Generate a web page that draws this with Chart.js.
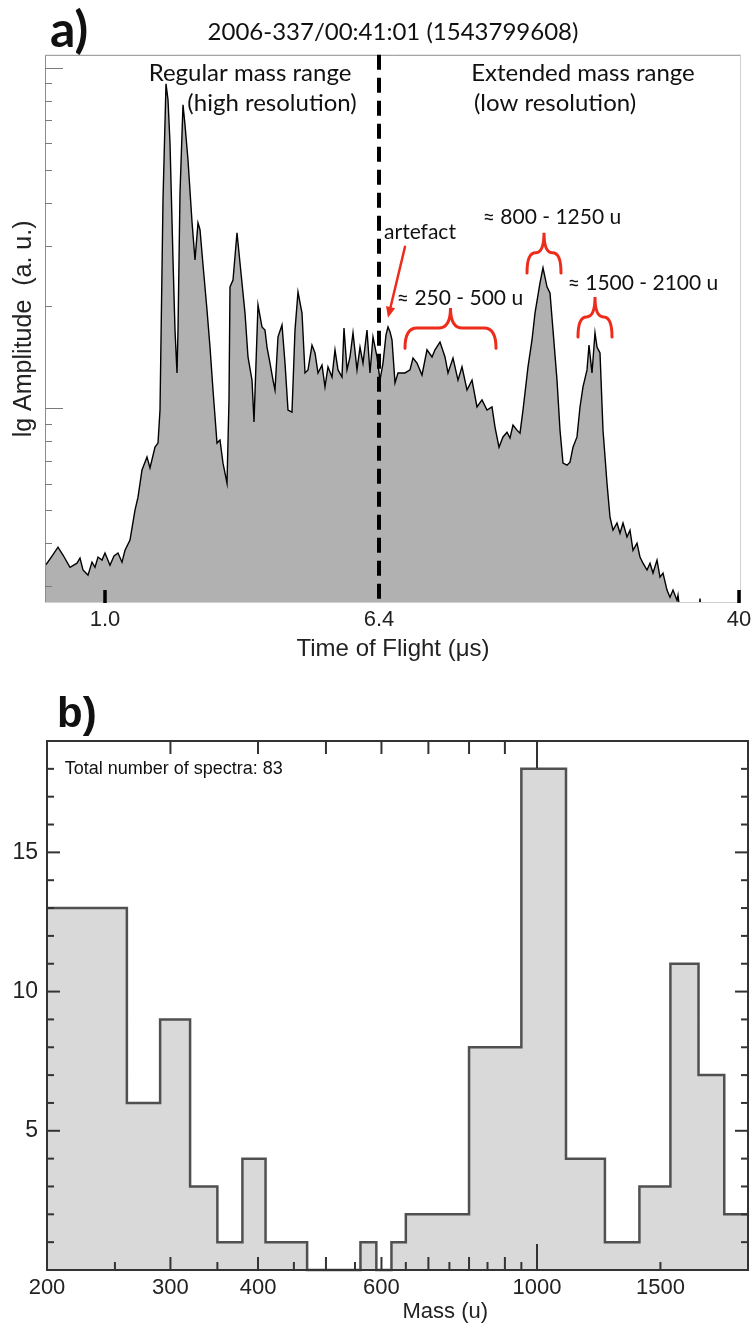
<!DOCTYPE html>
<html>
<head>
<meta charset="utf-8">
<script src="https://cdn.jsdelivr.net/npm/chart.js@4.4.1/dist/chart.umd.min.js"></script>
<style>
  html, body { margin: 0; padding: 0; background: #fff; }
  #wrap-a { position: absolute; left: 0; top: 0; width: 756px; height: 680px; }
  #wrap-b { position: absolute; left: 0; top: 680px; width: 756px; height: 645px; }
</style>
</head>
<body>
<div id="wrap-a"><canvas id="spectrum-chart"></canvas></div>
<div id="wrap-b"><canvas id="mass-chart"></canvas></div>
<script>
// ---- panel a: TOF spectrum (channel along the axis, lg amplitude) ----
var spectrumTitle = '2006-337/00:41:01 (1543799608)';
var tofTickChannels = [60, 334, 694];
var tofTickLabels = ['1.0', '6.4', '40'];
var tofBoundary = 334;   // 6.4 us, end of regular mass range

var tofChannel = [
  0, 2, 7, 13, 18, 25, 32, 35, 38, 43,
  47, 50, 53, 57, 60, 65, 69, 73, 77, 80,
  85, 90, 93, 97, 102, 105, 110, 113, 115, 116,
  118, 121, 123, 125, 128, 130, 132, 133, 135, 138,
  140, 143, 147, 150, 153, 155, 158, 162, 165, 168,
  172, 175, 178, 182, 184, 185, 188, 192, 195, 200,
  203, 207, 209, 213, 217, 220, 222, 225, 228, 230,
  233, 237, 240, 243, 247, 250, 253, 257, 260, 263,
  267, 270, 273, 277, 280, 283, 287, 290, 293, 297,
  299, 302, 305, 308, 312, 315, 318, 322, 325, 328,
  332, 335, 338, 341, 343, 345, 347, 350, 353, 360,
  365, 368, 372, 377, 382, 387, 390, 395, 400, 403,
  408, 413, 417, 422, 427, 432, 437, 442, 447, 450,
  454, 458, 462, 465, 468, 472, 475, 478, 483, 487,
  490, 495, 498, 502, 505, 508, 512, 515, 518, 522,
  525, 528, 532, 535, 538, 542, 544, 547, 550, 552,
  555, 558, 562, 565, 568, 572, 575, 578, 582, 585,
  588, 592, 595, 598, 602, 605, 608, 612, 615, 618,
  622, 625, 628, 632, 633, 635, 654, 655, 656, 696
];
var lgAmp = [
  0.538, 0.544, 0.565, 0.591, 0.568, 0.532, 0.544, 0.559, 0.524, 0.509,
  0.547, 0.532, 0.562, 0.553, 0.574, 0.538, 0.565, 0.574, 0.547, 0.582,
  0.612, 0.700, 0.738, 0.818, 0.856, 0.824, 0.885, 0.897, 0.994, 1.200,
  1.612, 1.953, 1.906, 1.779, 1.435, 1.229, 1.103, 1.229, 1.632, 1.891,
  1.832, 1.729, 1.547, 1.435, 1.544, 1.524, 1.421, 1.288, 1.179, 1.053,
  0.897, 0.906, 0.838, 0.779, 1.024, 1.356, 1.376, 1.515, 1.426, 1.279,
  1.150, 1.082, 0.959, 1.303, 1.238, 1.229, 1.179, 1.132, 1.082, 1.053,
  1.209, 1.244, 1.132, 0.994, 0.988, 1.229, 1.341, 1.279, 1.103, 1.112,
  1.185, 1.162, 1.103, 1.126, 1.062, 1.121, 1.091, 1.171, 1.112, 1.091,
  1.235, 1.112, 1.150, 1.221, 1.112, 1.179, 1.132, 1.229, 1.103, 1.209,
  1.150, 1.082, 1.132, 1.215, 1.238, 1.224, 1.200, 1.074, 1.103, 1.103,
  1.112, 1.147, 1.132, 1.097, 1.171, 1.150, 1.171, 1.194, 1.150, 1.103,
  1.147, 1.082, 1.121, 1.053, 1.082, 1.003, 1.024, 0.994, 1.003, 0.944,
  0.885, 0.915, 0.929, 0.912, 0.950, 0.935, 0.926, 0.994, 1.121, 1.200,
  1.279, 1.368, 1.412, 1.356, 1.338, 1.229, 1.082, 0.935, 0.838, 0.832,
  0.841, 0.885, 0.915, 1.003, 1.062, 1.112, 1.185, 1.103, 1.221, 1.179,
  1.162, 0.935, 0.779, 0.679, 0.641, 0.662, 0.632, 0.662, 0.621, 0.641,
  0.582, 0.603, 0.562, 0.544, 0.524, 0.544, 0.515, 0.553, 0.503, 0.515,
  0.465, 0.444, 0.465, 0.435, 0.450, 0.400, 0.400, 0.440, 0.400, 0.400
];
var lgMin = 0.427, lgMax = 2.038;
var ampMinorTicks = [3, 4, 5, 6, 7, 8, 9, 20, 30, 40, 50, 60, 70, 80, 90];
var ampDecadeTicks = [10, 100];

// text notes, placed in data units (channel, lg amplitude)
var spectrumNotes = [
  {text: 'Regular mass range', x: 205, y: 1.985, size: 24},
  {text: '(high resolution)', x: 227, y: 1.897, size: 24},
  {text: 'Extended mass range', x: 538, y: 1.985, size: 24},
  {text: '(low resolution)', x: 510, y: 1.897, size: 24},
  {text: 'artefact', x: 375, y: 1.518, size: 21},
  {text: '\u2248 250 - 500 u', x: 415, y: 1.324, size: 21},
  {text: '\u2248 800 - 1250 u', x: 507, y: 1.562, size: 21},
  {text: '\u2248 1500 - 2100 u', x: 598, y: 1.368, size: 21}
];
// braces: [from channel, to channel, lg of tip, lg of ends]
var spectrumBraces = [
  [360, 451, 1.294, 1.176],
  [482, 516, 1.515, 1.397],
  [533, 567, 1.326, 1.209]
];
var artefactArrow = [360, 1.474, 343, 1.265];

// ---- panel b: mass histogram ----
var massEdges = [200, 260, 290, 320, 350, 380, 410, 470, 560, 590, 620, 650, 800, 950, 1100, 1250, 1400, 1550, 1700, 1850, 2000];
var binCounts = [13, 6, 9, 3, 1, 4, 1, 0, 1, 0, 1, 2, 8, 18, 4, 1, 3, 11, 7, 2];
var massTickValues = [200, 300, 400, 600, 1000, 1500];
var massMinorTicks = [250, 350, 450, 550, 650, 750, 850, 950, 1500];
var massMidTicks = [300, 400, 500, 600, 700, 800, 900];
var massTopTicks = [300, 400, 500, 600, 700, 800, 900];
var countTickLabels = [5, 10, 15];
var countTicks = [1, 2, 3, 4, 5, 6, 7, 8, 9, 10, 11, 12, 13, 14, 15, 16, 17, 18];
var totalNote = 'Total number of spectra: 83';
var massTitle = 'Mass (u)';

function seg(ctx, x1, y1, x2, y2) {
  ctx.beginPath(); ctx.moveTo(x1, y1); ctx.lineTo(x2, y2); ctx.stroke();
}

function drawBrace(ctx, x1, x2, yTip, yEnd) {
  var xc = (x1 + x2) / 2, ym = (yTip + yEnd) / 2;
  var r = Math.min((x2 - x1) / 4, 12);
  ctx.beginPath();
  ctx.moveTo(x1, yEnd);
  ctx.quadraticCurveTo(x1, ym, x1 + r, ym);
  ctx.lineTo(xc - r, ym);
  ctx.quadraticCurveTo(xc, ym, xc, yTip);
  ctx.quadraticCurveTo(xc, ym, xc + r, ym);
  ctx.lineTo(x2 - r, ym);
  ctx.quadraticCurveTo(x2, ym, x2, yEnd);
  ctx.stroke();
}

var spectrumDecor = {
  id: 'spectrumDecor',
  afterDatasetsDraw: function (chart) {
    var ctx = chart.ctx, a = chart.chartArea, x = chart.scales.x, y = chart.scales.y;
    ctx.save();
    ctx.lineWidth = 1;
    ctx.strokeStyle = '#8c8c8c';
    ctx.beginPath();
    ctx.moveTo(a.left + 0.5, a.bottom);
    ctx.lineTo(a.left + 0.5, a.top + 0.5);
    ctx.lineTo(a.right, a.top + 0.5);
    ctx.stroke();
    ctx.strokeStyle = '#d0d0d0';
    seg(ctx, a.right - 0.5, a.top, a.right - 0.5, a.bottom);
    seg(ctx, a.left, a.bottom - 0.5, a.right, a.bottom - 0.5);

    ctx.strokeStyle = '#7a7a7a';
    ampMinorTicks.forEach(function (v) {
      var py = Math.round(y.getPixelForValue(Math.log10(v))) + 0.5;
      seg(ctx, a.left, py, a.left + 7, py);
    });
    ampDecadeTicks.forEach(function (v) {
      var py = Math.round(y.getPixelForValue(Math.log10(v))) + 0.5;
      seg(ctx, a.left, py, a.left + 18, py);
    });

    ctx.strokeStyle = '#000';
    ctx.lineWidth = 3.5;
    tofTickChannels.forEach(function (v) {
      if (v === tofBoundary) return;
      var px = x.getPixelForValue(v);
      seg(ctx, px, a.bottom, px, a.bottom - 13);
    });

    ctx.lineWidth = 4;
    ctx.setLineDash([15, 8]);
    var bx = x.getPixelForValue(tofBoundary);
    seg(ctx, bx, a.top, bx, a.bottom);
    ctx.restore();
  },
  afterDraw: function (chart) {
    var ctx = chart.ctx, x = chart.scales.x, y = chart.scales.y;
    ctx.save();
    ctx.fillStyle = '#111';
    ctx.font = 'bold 50px Lato';
    ctx.textAlign = 'left';
    ctx.textBaseline = 'alphabetic';
    ctx.fillText('a)', 50, 47);

    ctx.textAlign = 'center';
    ctx.textBaseline = 'middle';
    spectrumNotes.forEach(function (n) {
      ctx.font = n.size + 'px Lato';
      ctx.fillText(n.text, x.getPixelForValue(n.x), y.getPixelForValue(n.y));
    });

    ctx.strokeStyle = '#ee2c1c';
    ctx.fillStyle = '#ee2c1c';
    ctx.lineWidth = 3;
    ctx.lineCap = 'round';
    spectrumBraces.forEach(function (b) {
      drawBrace(ctx, x.getPixelForValue(b[0]), x.getPixelForValue(b[1]),
        y.getPixelForValue(b[2]), y.getPixelForValue(b[3]));
    });

    var x1 = x.getPixelForValue(artefactArrow[0]), y1 = y.getPixelForValue(artefactArrow[1]);
    var x2 = x.getPixelForValue(artefactArrow[2]), y2 = y.getPixelForValue(artefactArrow[3]);
    var ang = Math.atan2(y2 - y1, x2 - x1);
    ctx.lineWidth = 2.5;
    seg(ctx, x1, y1, x2 - 8 * Math.cos(ang), y2 - 8 * Math.sin(ang));
    ctx.beginPath();
    ctx.moveTo(x2, y2);
    ctx.lineTo(x2 - 12 * Math.cos(ang - 0.4), y2 - 12 * Math.sin(ang - 0.4));
    ctx.lineTo(x2 - 12 * Math.cos(ang + 0.4), y2 - 12 * Math.sin(ang + 0.4));
    ctx.closePath();
    ctx.fill();
    ctx.restore();
  }
};

var spectrumChart = new Chart(document.getElementById('spectrum-chart').getContext('2d'), {
  type: 'line',
  data: {
    datasets: [{
      data: tofChannel.map(function (c, i) { return {x: c, y: lgAmp[i]}; }),
      borderColor: '#000',
      borderWidth: 1.4,
      backgroundColor: '#b1b1b1',
      fill: 'start',
      pointRadius: 0,
      tension: 0
    }]
  },
  options: {
    responsive: true,
    maintainAspectRatio: false,
    animation: false,
    layout: {padding: {top: 18, right: 15, left: 0, bottom: 0}},
    plugins: {
      legend: {display: false},
      tooltip: {enabled: false},
      title: {
        display: true, text: spectrumTitle, fullSize: false, color: '#111',
        font: {family: 'Lato', size: 24, weight: 'normal', lineHeight: 1.2},
        padding: {top: 0, bottom: 8}
      }
    },
    scales: {
      x: {
        type: 'linear', min: 0, max: 696,
        grid: {display: false, drawTicks: false},
        border: {display: false},
        afterBuildTicks: function (s) { s.ticks = tofTickChannels.map(function (v) { return {value: v}; }); },
        afterFit: function (s) { s.height = 77; },
        ticks: {
          autoSkip: false, maxRotation: 0, padding: 4, color: '#222',
          font: {family: 'Liberation Sans', size: 22},
          callback: function (v) { return tofTickLabels[tofTickChannels.indexOf(v)]; }
        },
        title: {
          display: true, text: 'Time of Flight (\u03bcs)', color: '#222',
          font: {family: 'Liberation Sans', size: 24},
          padding: {top: 0, bottom: 16}
        }
      },
      y: {
        type: 'linear', min: lgMin, max: lgMax,
        grid: {display: false, drawTicks: false},
        border: {display: false},
        ticks: {display: false},
        afterFit: function (s) { s.width = 45; },
        title: {
          display: true, text: 'lg Amplitude  (a. u.)', color: '#222',
          font: {family: 'Liberation Sans', size: 25},
          padding: {top: 9, bottom: 0}
        }
      }
    }
  },
  plugins: [spectrumDecor]
});

var massDecor = {
  id: 'massDecor',
  afterDatasetsDraw: function (chart) {
    var ctx = chart.ctx, a = chart.chartArea, x = chart.scales.x, y = chart.scales.y;
    ctx.save();
    ctx.strokeStyle = '#333';
    ctx.lineWidth = 2;
    ctx.strokeRect(a.left, a.top, a.right - a.left, a.bottom - a.top);
    countTicks.forEach(function (v) {
      var py = y.getPixelForValue(v);
      var len = countTickLabels.indexOf(v) >= 0 ? 13 : 7;
      seg(ctx, a.left, py, a.left + len, py);
      seg(ctx, a.right, py, a.right - len, py);
    });
    massMinorTicks.forEach(function (v) {
      var px = x.getPixelForValue(v);
      seg(ctx, px, a.bottom, px, a.bottom - 8);
    });
    massMidTicks.forEach(function (v) {
      var px = x.getPixelForValue(v);
      seg(ctx, px, a.bottom, px, a.bottom - 13);
    });
    massTopTicks.forEach(function (v) {
      var px = x.getPixelForValue(v);
      seg(ctx, px, a.top, px, a.top + 13);
    });
    var kx = x.getPixelForValue(1000);
    seg(ctx, kx, a.bottom, kx, a.bottom - 26);
    seg(ctx, kx, a.top, kx, a.top + 27);
    ctx.restore();
  },
  afterDraw: function (chart) {
    var ctx = chart.ctx, a = chart.chartArea, x = chart.scales.x, y = chart.scales.y;
    ctx.save();
    ctx.fillStyle = '#111';
    ctx.font = 'bold 42px "Liberation Sans"';
    ctx.textBaseline = 'alphabetic';
    ctx.fillText('b)', 57, 47);
    ctx.font = '18px "Liberation Sans"';
    ctx.textBaseline = 'middle';
    ctx.fillText(totalNote, x.getPixelForValue(212), y.getPixelForValue(18));
    // axis title sits right of centre in the original
    ctx.fillStyle = '#222';
    ctx.font = '22px "Liberation Sans"';
    ctx.textAlign = 'center';
    ctx.fillText(massTitle, x.getPixelForValue(740), a.bottom + 42);
    ctx.restore();
  }
};

var massChart = new Chart(document.getElementById('mass-chart').getContext('2d'), {
  type: 'line',
  data: {
    datasets: [{
      data: massEdges.map(function (m, i) { return {x: m, y: binCounts[Math.min(i, binCounts.length - 1)]}; }),
      stepped: 'before',
      borderColor: '#505050',
      borderWidth: 2.5,
      backgroundColor: '#d9d9d9',
      fill: 'start',
      pointRadius: 0,
      clip: 3
    }]
  },
  options: {
    responsive: true,
    maintainAspectRatio: false,
    animation: false,
    layout: {padding: {top: 61, right: 8, left: 0, bottom: 0}},
    plugins: {legend: {display: false}, tooltip: {enabled: false}},
    scales: {
      x: {
        type: 'logarithmic', min: 200, max: 2000,
        grid: {display: false, drawTicks: false},
        border: {display: false},
        afterBuildTicks: function (s) { s.ticks = massTickValues.map(function (v) { return {value: v}; }); },
        afterFit: function (s) { s.height = 55; },
        ticks: {
          autoSkip: false, maxRotation: 0, padding: 5, color: '#222',
          font: {family: 'Liberation Sans', size: 22},
          callback: function (v) { return String(v); }
        }
      },
      y: {
        type: 'linear', min: 0, max: 19,
        grid: {display: false, drawTicks: false},
        border: {display: false},
        afterBuildTicks: function (s) { s.ticks = countTickLabels.map(function (v) { return {value: v}; }); },
        afterFit: function (s) { s.width = 47; },
        ticks: {
          padding: 9, color: '#222',
          font: {family: 'Liberation Sans', size: 23}
        }
      }
    }
  },
  plugins: [massDecor]
});
</script>
</body>
</html>
